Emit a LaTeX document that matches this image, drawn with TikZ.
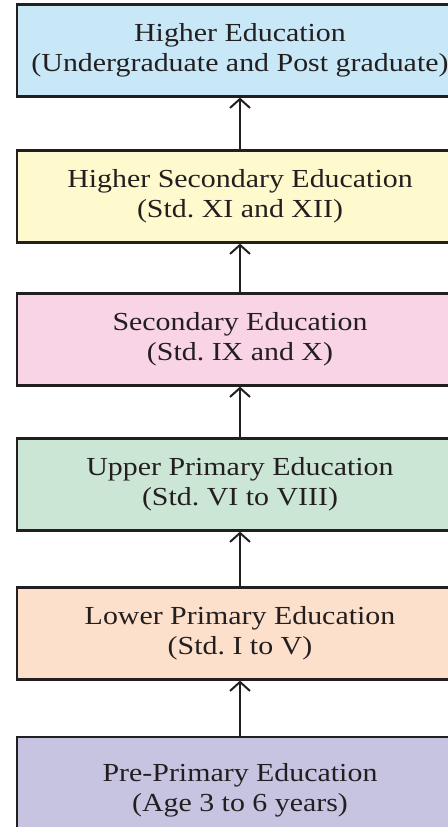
\documentclass[tikz,border=0pt]{standalone}
\usepackage{fontspec}
\setmainfont[FakeStretch=1.15]{Liberation Serif}
\usetikzlibrary{arrows.meta}
\definecolor{edge}{RGB}{35,31,32}
\definecolor{cblue}{RGB}{200,232,248}
\definecolor{cyellow}{RGB}{255,250,205}
\definecolor{cpink}{RGB}{249,212,230}
\definecolor{cgreen}{RGB}{204,230,214}
\definecolor{cpeach}{RGB}{253,224,203}
\definecolor{clav}{RGB}{199,196,226}
\frenchspacing
\tikzset{
  stagebox/.style={draw=edge, line width=2.2pt, minimum width=446pt, minimum height=92pt,
    inner sep=0pt, align=center, text=edge, font=\fontsize{26}{30}\selectfont},
  uparrow/.style={draw=edge, line width=2pt, -{Straight Barb[length=9pt,width=20pt,line width=2pt]}}
}
\begin{document}
\begin{tikzpicture}[x=1pt,y=-1pt]
\useasboundingbox (0,0) rectangle (447,827);
\node[stagebox, fill=cblue]   (he)  at (240,50.5)  {Higher Education\\(Undergraduate and Post graduate)};
\node[stagebox, fill=cyellow] (hse) at (240,196.5) {Higher Secondary Education\\(Std. XI and XII)};
\node[stagebox, fill=cpink]   (se)  at (240,339.5) {Secondary Education\\(Std. IX and X)};
\node[stagebox, fill=cgreen]  (upe) at (240,484.5) {Upper Primary Education\\(Std. VI to VIII)};
\node[stagebox, fill=cpeach]  (lpe) at (240,633.5) {Lower Primary Education\\(Std. I to V)};
\node[stagebox, fill=clav, minimum height=106pt] (ppe) at (240,790) {Pre-Primary Education\\(Age 3 to 6 years)};
\draw[uparrow] (hse.north) -- (he.south);
\draw[uparrow] (se.north) -- (hse.south);
\draw[uparrow] (upe.north) -- (se.south);
\draw[uparrow] (lpe.north) -- (upe.south);
\draw[uparrow] (ppe.north) -- (lpe.south);
\end{tikzpicture}
\end{document}
